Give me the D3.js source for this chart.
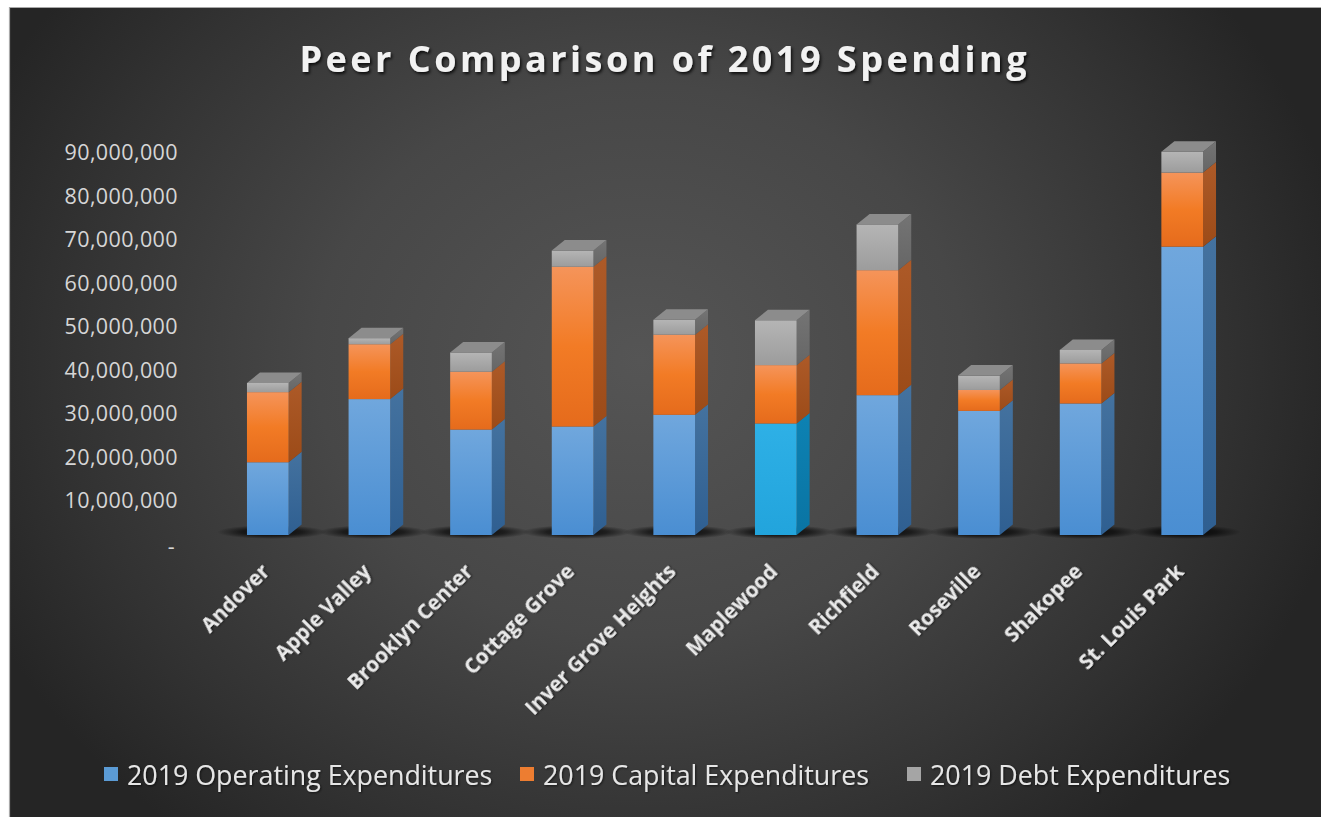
<!DOCTYPE html>
<html><head><meta charset="utf-8">
<script src="https://cdn.jsdelivr.net/npm/d3@7"></script>
<style>html,body{margin:0;padding:0;background:#fff;overflow:hidden} svg{display:block;}</style>
</head><body><svg id="c" width="1321" height="817"></svg>
<script>
// ---- data ----
const categories = ["Andover","Apple Valley","Brooklyn Center","Cottage Grove","Inver Grove Heights","Maplewood","Richfield","Roseville","Shakopee","St. Louis Park"];
const operating = [16700000,31200000,24200000,24900000,27600000,25600000,32100000,28500000,30200000,66200000];
const capital   = [16100000,12600000,13300000,36700000,18400000,13400000,28700000,4800000,9200000,17000000];
const debt      = [2100000,1400000,4400000,3700000,3400000,10300000,10500000,3300000,3100000,4800000];
const seriesNames = ["2019 Operating Expenditures","2019 Capital Expenditures","2019 Debt Expenditures"];
const yTickValues = [0,10000000,20000000,30000000,40000000,50000000,60000000,70000000,80000000,90000000];
const yTickLabels = ["-","10,000,000","20,000,000","30,000,000","40,000,000","50,000,000","60,000,000","70,000,000","80,000,000","90,000,000"];
const highlighted = "Maplewood";
const titleText = "Peer Comparison of 2019 Spending";

// ---- setup ----
const svg = d3.select("#c");
const W = 1321, H = 817;
const defs = svg.append("defs");

function linGrad(id, stops) {
  const g = defs.append("linearGradient").attr("id", id).attr("x1",0).attr("y1",0).attr("x2",0).attr("y2",1);
  stops.forEach(s => g.append("stop").attr("offset", s[0]).attr("stop-color", s[1]));
}
const bg = defs.append("radialGradient").attr("id","bg").attr("gradientUnits","userSpaceOnUse")
  .attr("cx",640).attr("cy",360).attr("r",720).attr("gradientTransform","translate(640 360) scale(1 0.85) translate(-640 -360)");
[[0,"#555555"],[0.45,"#474747"],[0.8,"#323232"],[1,"#252525"]].forEach(s=>bg.append("stop").attr("offset",s[0]).attr("stop-color",s[1]));

const sh = defs.append("radialGradient").attr("id","floorShadow");
[[0,"rgba(0,0,0,0.9)"],[0.55,"rgba(0,0,0,0.6)"],[1,"rgba(0,0,0,0)"]].forEach(s=>sh.append("stop").attr("offset",s[0]).attr("stop-color",s[1]));

const txtShadow = defs.append("filter").attr("id","tshadow").attr("x","-10%").attr("y","-30%").attr("width","120%").attr("height","160%");
txtShadow.append("feDropShadow").attr("dx",1.5).attr("dy",2).attr("stdDeviation",1.5).attr("flood-color","#000").attr("flood-opacity",0.8);
const lblShadow = defs.append("filter").attr("id","lshadow").attr("x","-10%").attr("y","-30%").attr("width","120%").attr("height","160%");
lblShadow.append("feDropShadow").attr("dx",1).attr("dy",1).attr("stdDeviation",1).attr("flood-color","#000").attr("flood-opacity",0.6);

// face colours per series
const palette = {
  normal: [
    { front:[[0,"#70a7dd"],[1,"#4a8ed2"]], side:[[0,"#44729f"],[1,"#2f5f91"]], top:"#8ab8e6" },
    { front:[[0,"#f5945a"],[0.5,"#f27b25"],[1,"#e56b1c"]], side:[[0,"#ad5a28"],[1,"#9c4b18"]], top:"#f7a36d" },
    { front:[[0,"#b5b5b5"],[1,"#9c9c9c"]], side:[[0,"#747474"],[1,"#666666"]], top:"#8c8c8c" }
  ],
  hi: [
    { front:[[0,"#2eb0e6"],[1,"#22a4dc"]], side:[[0,"#0d82b3"],[1,"#0a74a3"]], top:"#55c0ec" }
  ]
};
function gid(kind, i, face){ return `g_${kind}_${i}_${face}`; }
["normal","hi"].forEach(kind => palette[kind].forEach((p,i) => {
  linGrad(gid(kind,i,"front"), p.front);
  linGrad(gid(kind,i,"side"), p.side);
}));

// background
svg.append("rect").attr("x",0).attr("y",0).attr("width",W).attr("height",H).attr("fill","#ffffff");
svg.append("rect").attr("x",10).attr("y",8).attr("width",W-10).attr("height",H-8).attr("fill","url(#bg)");
svg.append("path").attr("d",`M9.5,${H} V7.5 H${W}`).attr("fill","none").attr("stroke","#a8a8a8").attr("stroke-width",1.2);

// scales
const x = d3.scaleBand().domain(categories).range([217,1233]).paddingInner(0.59).paddingOuter(0.295);
const y = d3.scaleLinear().domain([0,90000000]).range([544,152]);
const frontOff = 9, dx = 13, dy = 10.5;

// title
svg.append("text").attr("x",663).attr("y",72).attr("text-anchor","middle")
  .attr("font-family","'Open Sans', sans-serif").attr("font-weight",700).attr("font-size",36)
  .attr("fill","#f2f2f2").attr("filter","url(#tshadow)")
  .attr("textLength",727).attr("lengthAdjust","spacing")
  .text(titleText);

// y axis labels
const yAxis = d3.axisLeft(y).tickValues(yTickValues).tickFormat((d,i)=>yTickLabels[i]).tickSize(0).tickPadding(0);
const yg = svg.append("g").attr("transform","translate(178,0)").call(yAxis);
yg.select(".domain").remove();
yg.selectAll("text").attr("font-family","'Open Sans', sans-serif").attr("font-size",21.5)
  .attr("fill","#d6d6d6").attr("letter-spacing",0.4).attr("dy","0.35em");
yg.selectAll(".tick").filter(d=>d===0).select("text").attr("transform","translate(-3,2)");

// stacked data
const rows = categories.map((c,i)=>({cat:c, op:operating[i], cap:capital[i], debt:debt[i]}));
const stack = d3.stack().keys(["op","cap","debt"]);
const series = stack(rows);

// floor shadows
svg.append("g").selectAll("ellipse").data(categories).join("ellipse")
  .attr("cx", c => x(c) + x.bandwidth()/2 + 4)
  .attr("cy", y(0) - frontOff - 3)
  .attr("rx", x.bandwidth()/2 + 34)
  .attr("ry", 7)
  .attr("fill","url(#floorShadow)");

// bars
const bars = svg.append("g");
categories.forEach((c, ci) => {
  const g = bars.append("g");
  const x0 = x(c), w = x.bandwidth();
  series.forEach((s, si) => {
    const d = s[ci];
    const yb = y(d[0]) - frontOff, yt = y(d[1]) - frontOff;
    const kind = (c === highlighted && si === 0) ? "hi" : "normal";
    const pi = kind === "hi" ? 0 : si;
    g.append("path")
      .attr("d", `M${x0+w},${yt} L${x0+w+dx},${yt-dy} L${x0+w+dx},${yb-dy} L${x0+w},${yb} Z`)
      .attr("fill", `url(#${gid(kind,pi,"side")})`);
    g.append("rect").attr("x",x0).attr("y",yt).attr("width",w).attr("height",Math.max(0,yb-yt))
      .attr("fill", `url(#${gid(kind,pi,"front")})`);
    if (si === series.length - 1) {
      g.append("path")
        .attr("d", `M${x0},${yt} L${x0+dx},${yt-dy} L${x0+w+dx},${yt-dy} L${x0+w},${yt} Z`)
        .attr("fill", palette[kind][pi].top);
    }
  });
});

// x labels
const xAxis = d3.axisBottom(x).tickSize(0).tickPadding(0);
const xg = svg.append("g").attr("transform","translate(3,573)").call(xAxis);
xg.select(".domain").remove();
xg.selectAll("text")
  .attr("font-family","'Open Sans', sans-serif").attr("font-weight",700).attr("font-size",20.5)
  .attr("fill","#eaeaea").attr("text-anchor","end").attr("dy",0).attr("y",0).attr("x",0)
  .attr("transform","rotate(-45)").attr("filter","url(#lshadow)");

// legend
const legendColors = ["#5b9bd5","#ed7d31","#a5a5a5"];
const legendX = [104, 520, 907];
const lg = svg.append("g");
seriesNames.forEach((n,i)=>{
  lg.append("rect").attr("x",legendX[i]).attr("y",767).attr("width",14).attr("height",14).attr("fill",legendColors[i]);
  lg.append("text").attr("x",legendX[i]+23).attr("y",785)
    .attr("font-family","'Open Sans', sans-serif").attr("font-weight",500).attr("font-size",26.8)
    .attr("fill","#e6e6e6").attr("filter","url(#lshadow)").text(n);
});
</script>
</body></html>
